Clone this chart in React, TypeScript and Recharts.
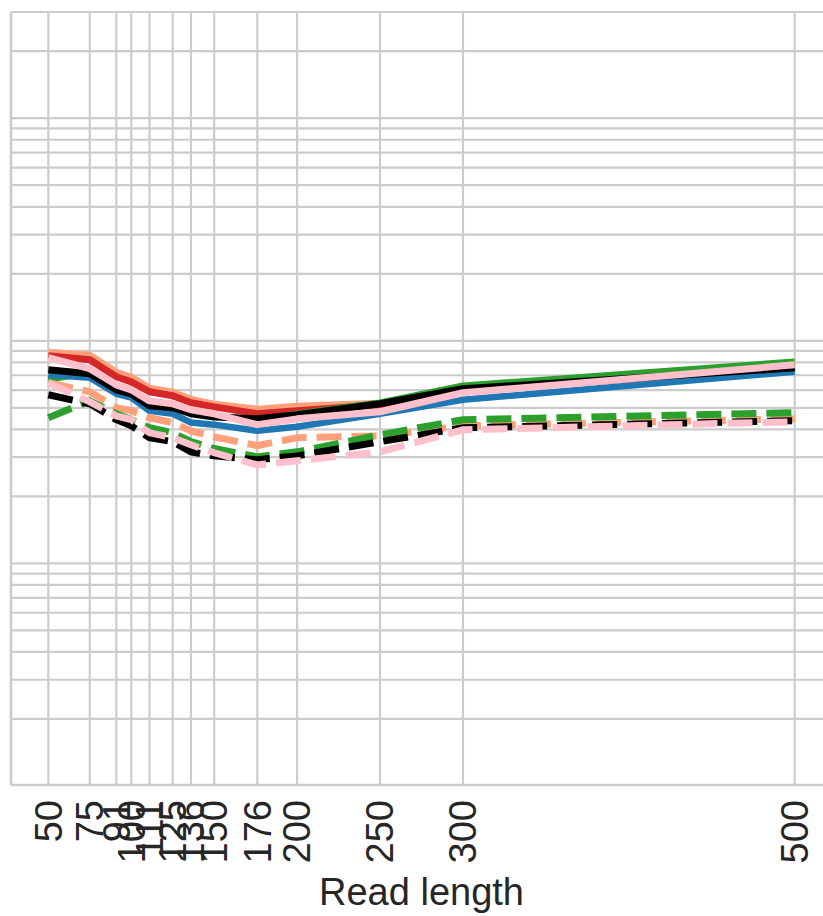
import { LineChart, Line, XAxis, YAxis, CartesianGrid } from "recharts";

// read lengths on the x axis
const readLengths = [50, 75, 91, 100, 111, 125, 136, 150, 176, 200, 250, 300, 500];

// solid lines
const salmonSolid = [8.83, 8.56, 7.18, 6.82, 6.09, 5.84, 5.43, 5.16, 4.9, 5.05, 5.21, 6.02, 7.72];
const redSolid = [8.56, 8.22, 6.89, 6.54, 5.9, 5.66, 5.27, 5.05, 4.7, 4.85, 5.16, 6.02, 7.49];
const greenSolid = [6.68, 7.26, 6.15, 5.84, 5.21, 5.0, 4.8, 4.6, 4.42, 4.7, 5.27, 6.28, 8.05];
const blueSolid = [7.04, 6.82, 5.78, 5.55, 4.85, 4.7, 4.29, 4.2, 3.94, 4.11, 4.7, 5.43, 7.26];
const blackSolid = [7.41, 7.11, 6.02, 5.78, 5.1, 5.0, 4.7, 4.55, 4.46, 4.65, 5.21, 6.09, 7.56];
const pinkSolid = [8.39, 7.49, 6.34, 6.02, 5.37, 5.21, 4.9, 4.7, 4.2, 4.46, 4.8, 5.84, 7.8];

// dashed lines
const salmonDashed = [6.48, 5.9, 5.0, 4.85, 4.51, 4.29, 3.94, 3.7, 3.38, 3.67, 3.74, 4.15, 4.46];
const greenDashed = [4.51, 5.37, 4.7, 4.42, 4.07, 3.86, 3.52, 3.28, 3.01, 3.17, 3.78, 4.42, 4.75];
const blackDashed = [5.72, 5.21, 4.42, 4.15, 3.67, 3.52, 3.17, 3.04, 2.92, 3.04, 3.52, 4.07, 4.38];
const pinkDashed = [6.48, 5.32, 4.6, 4.42, 3.86, 3.67, 3.41, 3.14, 2.77, 2.89, 3.17, 3.98, 4.33];

// log-scale grid lines (major + minor)
const yTicks = [
  0.2, 0.3, 0.4, 0.5, 0.6, 0.7, 0.8, 0.9,
  1, 2, 3, 4, 5, 6, 7, 8, 9,
  10, 20, 30, 40, 50, 60, 70, 80, 90,
  100, 200, 300,
];

const data = readLengths.map((x, i) => ({
  x,
  salmonSolid: salmonSolid[i],
  redSolid: redSolid[i],
  greenSolid: greenSolid[i],
  blueSolid: blueSolid[i],
  blackSolid: blackSolid[i],
  pinkSolid: pinkSolid[i],
  salmonDashed: salmonDashed[i],
  greenDashed: greenDashed[i],
  blackDashed: blackDashed[i],
  pinkDashed: pinkDashed[i],
}));

const FONT = "'Liberation Sans', Arial, sans-serif";
const GRID = "#cccccc";

function RotatedTick({ x, payload }: any) {
  return (
    <g transform={`translate(${x},800)`}>
      <text
        transform="rotate(-90)"
        textAnchor="end"
        dy="0.35em"
        fontSize={38}
        fontFamily={FONT}
        fill="#262626"
      >
        {payload.value}
      </text>
    </g>
  );
}

// y labels are cropped out of the original, keep ticks for the grid only
function EmptyTick() {
  return <g />;
}

const solid = [
  { key: "salmonSolid", color: "#ffa07a", width: 8 },
  { key: "redSolid", color: "#d62728", width: 7 },
  { key: "greenSolid", color: "#2ca02c", width: 6.5 },
  { key: "blueSolid", color: "#1f77b4", width: 6.5 },
  { key: "blackSolid", color: "#000000", width: 7 },
  { key: "pinkSolid", color: "#ffc0cb", width: 7 },
];

const dashed = [
  { key: "salmonDashed", color: "#ffa07a" },
  { key: "greenDashed", color: "#2ca02c" },
  { key: "blackDashed", color: "#000000" },
  { key: "pinkDashed", color: "#ffc0cb" },
];

export default function App() {
  return (
    <div
      style={{
        position: "absolute",
        left: 0,
        top: 0,
        width: 823,
        height: 916,
        overflow: "hidden",
        background: "#fff",
      }}
    >
      <LineChart
        width={850}
        height={916}
        data={data}
        margin={{ top: 12, right: 18, bottom: 0, left: 10 }}
      >
        <CartesianGrid stroke={GRID} strokeWidth={2.2} />
        <XAxis
          dataKey="x"
          type="number"
          domain={[27.5, 522.5]}
          ticks={readLengths}
          interval={0}
          height={131}
          tick={<RotatedTick />}
          tickLine={false}
          axisLine={{ stroke: GRID, strokeWidth: 2.5 }}
          label={{
            value: "Read length",
            position: "insideBottom",
            offset: 11,
            fontSize: 38,
            fontFamily: FONT,
            fill: "#262626",
          }}
        />
        <YAxis
          scale="log"
          domain={[0.101, 300]}
          allowDataOverflow
          ticks={yTicks}
          interval={0}
          width={1}
          tick={<EmptyTick />}
          tickLine={false}
          axisLine={{ stroke: GRID, strokeWidth: 2.5 }}
        />
        {solid.map((s) => (
          <Line
            key={s.key}
            dataKey={s.key}
            stroke={s.color}
            strokeWidth={s.width}
            dot={false}
            strokeLinejoin="round"
            isAnimationActive={false}
          />
        ))}
        {dashed.map((s) => (
          <Line
            key={s.key}
            dataKey={s.key}
            stroke={s.color}
            strokeWidth={7}
            strokeDasharray="25 10"
            dot={false}
            isAnimationActive={false}
          />
        ))}
      </LineChart>
    </div>
  );
}
